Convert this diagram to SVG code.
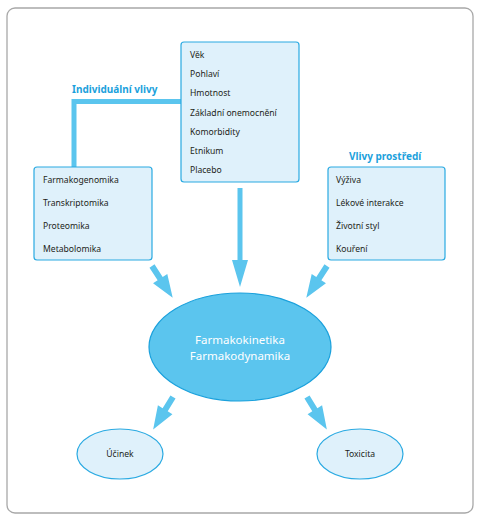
<svg xmlns="http://www.w3.org/2000/svg" width="479" height="516" viewBox="0 0 479 516">
<defs>
<style>
.frame{fill:#fff;stroke:#a8a8a8;stroke-width:1.3}
.box{fill:#dff1fb;stroke:#2aaae2;stroke-width:1.2}
.t{font-family:"Noto Sans","Open Sans",sans-serif;font-size:8.6px;fill:#231f20}
.lbl{font-family:"Noto Sans","Open Sans",sans-serif;font-size:10px;font-weight:bold;fill:#1ba1dc}
.big{fill:#5bc5ee;stroke:#1ba1dc;stroke-width:1.2}
.bt{font-family:"Noto Sans","Open Sans",sans-serif;font-size:11.5px;fill:#fff;text-anchor:middle}
.arr{fill:#5bc5ee}
.line{fill:none;stroke:#5bc5ee;stroke-width:5}
</style>
<path id="da" d="M-3,0 H3 V15 H8.5 L0,38 L-8.5,15 H-3 Z"/>
</defs>
<rect class="frame" x="7" y="8" width="466" height="505" rx="8"/>
<g id="connectors">
<polyline class="line" points="181,101.5 74,101.5 74,167"/>
<path class="arr" d="M237.5,188 H242.5 V260 H248 L240,287 L232,260 H237.5 Z"/>
<use href="#da" class="arr" transform="translate(152,266) rotate(-33)"/>
<use href="#da" class="arr" transform="translate(327,266) rotate(33)"/>
<use href="#da" class="arr" transform="translate(173,397) rotate(31.5)"/>
<use href="#da" class="arr" transform="translate(307,397) rotate(-31.5)"/>
</g>
<g id="individual-label"><text class="lbl" x="72" y="93">Individuální vlivy</text></g>
<g id="env-label"><text class="lbl" x="349" y="160">Vlivy prostředí</text></g>
<g id="center-box">
<rect class="box" x="181" y="42" width="118" height="140" rx="3"/>
<text class="t" x="190" y="57.5">Věk</text>
<text class="t" x="190" y="77">Pohlaví</text>
<text class="t" x="190" y="96">Hmotnost</text>
<text class="t" x="190" y="116">Základní onemocnění</text>
<text class="t" x="190" y="135">Komorbidity</text>
<text class="t" x="190" y="154">Etnikum</text>
<text class="t" x="190" y="173">Placebo</text>
</g>
<g id="left-box">
<rect class="box" x="34" y="167" width="118" height="93" rx="3"/>
<text class="t" x="43" y="182.5">Farmakogenomika</text>
<text class="t" x="43" y="206">Transkriptomika</text>
<text class="t" x="43" y="229">Proteomika</text>
<text class="t" x="43" y="252">Metabolomika</text>
</g>
<g id="right-box">
<rect class="box" x="328" y="167" width="117" height="93" rx="3"/>
<text class="t" x="336" y="182.5">Výživa</text>
<text class="t" x="336" y="206">Lékové interakce</text>
<text class="t" x="336" y="229">Životní styl</text>
<text class="t" x="336" y="252">Kouření</text>
</g>
<g id="pkpd">
<ellipse class="big" cx="240" cy="347" rx="91" ry="54"/>
<text class="bt" x="240" y="344">Farmakokinetika</text>
<text class="bt" x="240" y="360">Farmakodynamika</text>
</g>
<g id="ucinek">
<ellipse class="box" cx="120" cy="454" rx="43" ry="25"/>
<text class="t" x="120" y="457" text-anchor="middle">Účinek</text>
</g>
<g id="toxicita">
<ellipse class="box" cx="360" cy="454" rx="43" ry="25"/>
<text class="t" x="360" y="457" text-anchor="middle">Toxicita</text>
</g>
</svg>
